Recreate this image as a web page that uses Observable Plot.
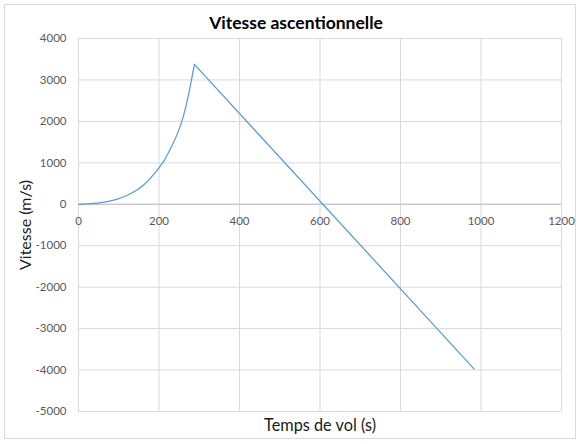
<!DOCTYPE html>
<html>
<head>
<meta charset="utf-8">
<script src="https://cdn.jsdelivr.net/npm/d3@7"></script>
<script src="https://cdn.jsdelivr.net/npm/@observablehq/plot@0.6"></script>
<style>
  html, body { margin: 0; padding: 0; background: #fff; }
  #wrap { position: relative; width: 580px; height: 444px; }
  #border { position: absolute; left: 4px; top: 4px; width: 572px; height: 435px; border: 1px solid #d9d9d9; box-sizing: border-box; }
  #wrap svg { position: absolute; left: 0; top: 0; }
</style>
</head>
<body>
<div id="wrap"><div id="border"></div></div>
<script>
const title = "Vitesse ascentionnelle";
const xLabel = "Temps de vol (s)";
const yLabel = "Vitesse (m/s)";
const xTicks = [0, 200, 400, 600, 800, 1000, 1200];
const yTicks = [-5000, -4000, -3000, -2000, -1000, 0, 1000, 2000, 3000, 4000];

// Phase propulsée (montée)
const burnTime  = [0, 29, 61, 95, 128, 162, 187, 200, 213, 230, 246, 257, 267, 275, 282, 288];
const burnSpeed = [0, 15, 48, 120, 248, 465, 720, 880, 1060, 1370, 1711, 2007, 2370, 2720, 3070, 3375];
// Phase balistique
const coastTime  = [288, 982.6];
const coastSpeed = [3375, -3970];

const burn = burnTime.map((t, i) => ({t, v: burnSpeed[i]}));
const coast = coastTime.map((t, i) => ({t, v: coastSpeed[i]}));

const font = "Lato, 'Open Sans', sans-serif";
const chart = Plot.plot({
  width: 580,
  height: 444,
  marginLeft: 78,
  marginRight: 19,
  marginTop: 38,
  marginBottom: 33,
  style: {fontFamily: font, background: "transparent", overflow: "visible"},
  x: {domain: [0, 1200], axis: null},
  y: {domain: [-5000, 4000], axis: null},
  marks: [
    Plot.gridX(xTicks, {stroke: "#d9d9d9", strokeOpacity: 1}),
    Plot.gridY(yTicks, {stroke: "#d9d9d9", strokeOpacity: 1}),
    Plot.ruleY([0], {stroke: "#bfbfbf"}),
    Plot.axisY(yTicks, {label: null, tickSize: 0, tickPadding: 12, fontSize: 11.5, fill: "#595959", tickFormat: d => String(d)}),
    Plot.text(xTicks, {x: d => d, y: () => 0, dy: 17, text: d => String(d), fontSize: 11.5, fill: "#595959"}),
    Plot.line(burn, {x: "t", y: "v", stroke: "#5b9bd5", strokeWidth: 1.25, curve: "monotone-x"}),
    Plot.line(coast, {x: "t", y: "v", stroke: "#5b9bd5", strokeWidth: 1.25}),
    Plot.text([title], {frameAnchor: "top", textAnchor: "middle", lineAnchor: "middle", dx: -24, dy: -15.5, fontSize: 17.5, fontWeight: "bold", fill: "#000"}),
    Plot.text([xLabel], {frameAnchor: "bottom", textAnchor: "middle", lineAnchor: "middle", dy: 14, fontSize: 16.3, fill: "#1a1a1a"}),
    Plot.text([yLabel], {frameAnchor: "left", textAnchor: "middle", lineAnchor: "middle", dx: -53, rotate: -90, fontSize: 16, fill: "#1a1a1a"})
  ]
});
document.getElementById("wrap").appendChild(chart);
</script>
</body>
</html>
